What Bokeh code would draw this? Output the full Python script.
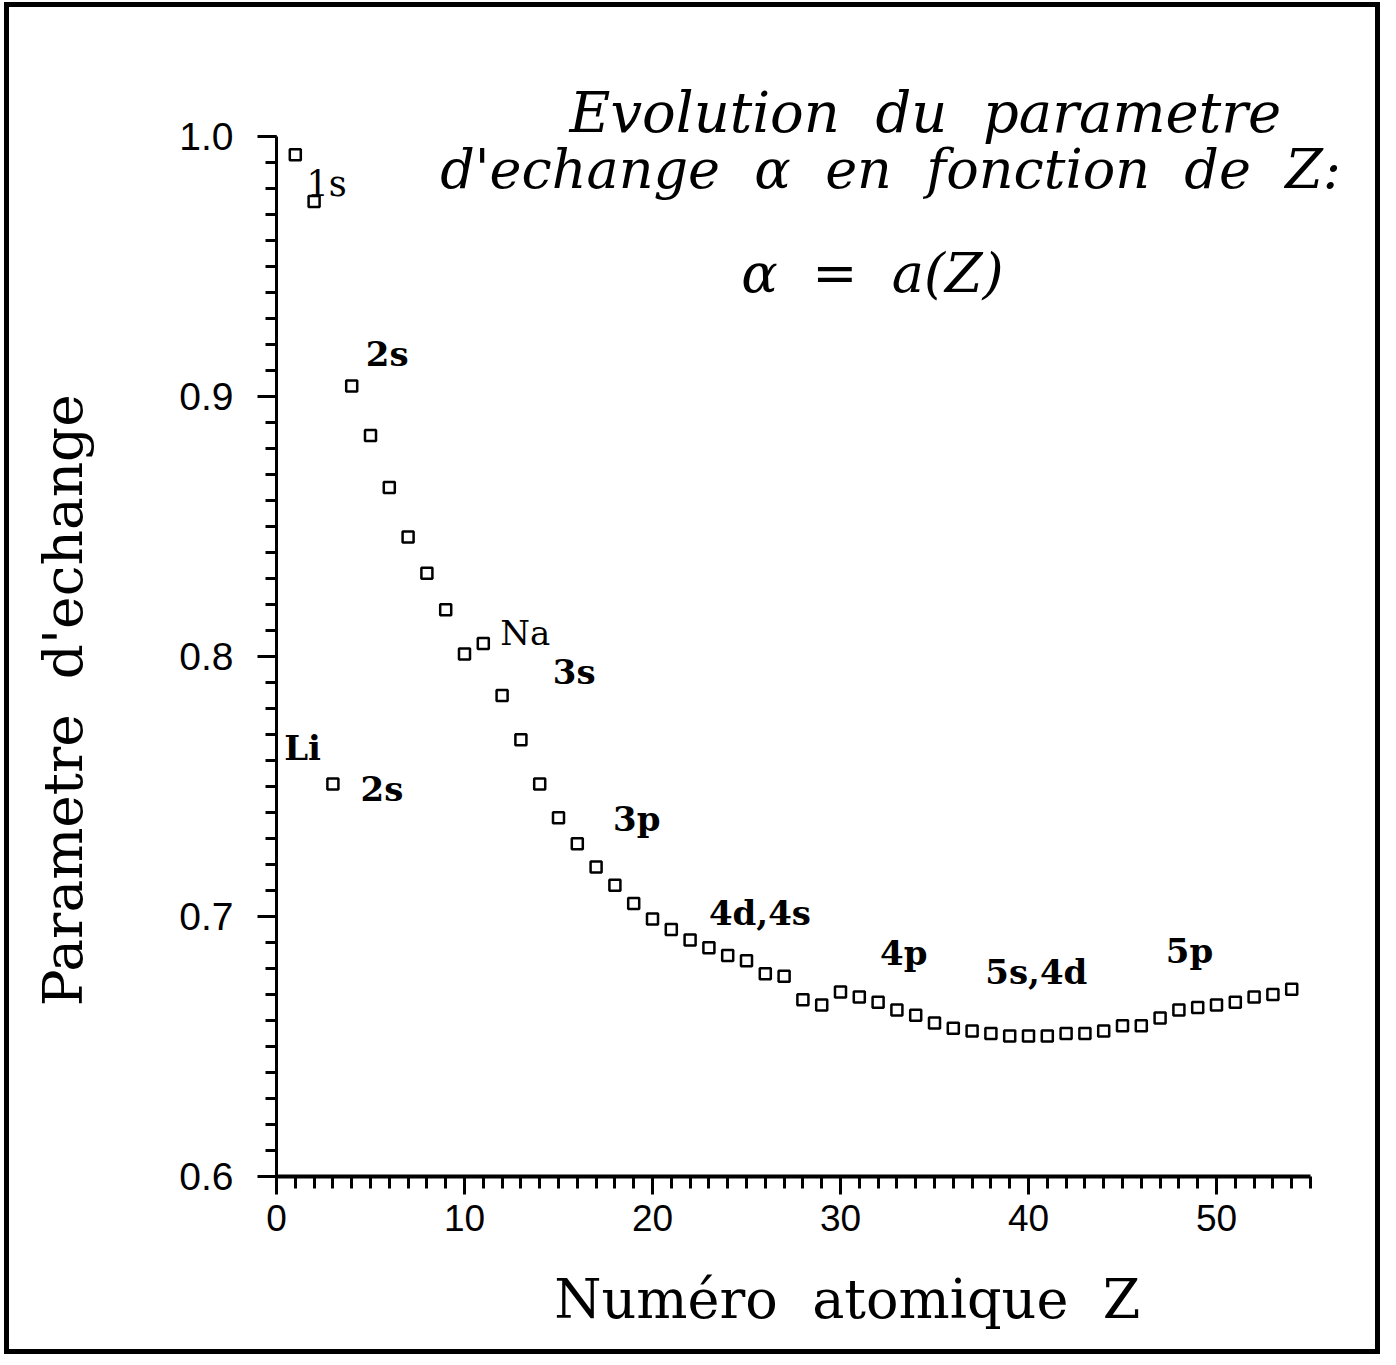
import math
from bokeh.plotting import figure
from bokeh.models import Range1d, SingleIntervalTicker, PrintfTickFormatter, Label
from bokeh.embed import file_html
from bokeh.resources import INLINE

# ---- data ----
Z = [1, 2, 3, 4, 5, 6, 7, 8, 9, 10,
     11, 12, 13, 14, 15, 16, 17, 18, 19, 20,
     21, 22, 23, 24, 25, 26, 27, 28, 29, 30,
     31, 32, 33, 34, 35, 36, 37, 38, 39, 40,
     41, 42, 43, 44, 45, 46, 47, 48, 49, 50,
     51, 52, 53, 54]
alpha = [0.993, 0.975, 0.751, 0.904, 0.885, 0.865, 0.846, 0.832, 0.818, 0.801,
         0.805, 0.785, 0.768, 0.751, 0.738, 0.728, 0.719, 0.712, 0.705, 0.699,
         0.695, 0.691, 0.688, 0.685, 0.683, 0.678, 0.677, 0.668, 0.666, 0.671,
         0.669, 0.667, 0.664, 0.662, 0.659, 0.657, 0.656, 0.655, 0.654, 0.654,
         0.654, 0.655, 0.655, 0.656, 0.658, 0.658, 0.661, 0.664, 0.665, 0.666,
         0.667, 0.669, 0.670, 0.672]

shell_labels = ["1s", "2s", "Na", "3s", "Li", "2s", "3p", "4d,4s", "4p", "5s,4d", "5p"]
shell_x = [1.6, 4.75, 11.9, 14.7, 0.41, 4.47, 17.9, 23.0, 32.1, 37.7, 47.3]
shell_y = [0.9818, 0.9163, 0.8090, 0.7942, 0.7650, 0.7491, 0.7375, 0.7015, 0.6858, 0.6785, 0.6869]
shell_bold = [False, True, False, True, True, True, True, True, True, True, True]

NB = "\u00a0"
title_lines = ["Evolution" + NB * 2 + "du" + NB * 2 + "parametre",
               "d'echange" + NB * 2 + "\u03b1" + NB * 2 + "en" + NB * 2 + "fonction" + NB * 2 + "de" + NB * 2 + "Z:",
               "\u03b1" + NB * 2 + "=" + NB * 2 + "a(Z)"]
xlabel = NB * 3 + "Num\u00e9ro" + NB * 2 + "atomique" + NB * 2 + "Z"
ylabel = "Parametre" + NB * 2 + "d'echange" + NB * 5

X_MAX_AXIS = 55
X_MAX_VIEW = 1090 / 18.8

# ---- figure ----
p = figure(width=1376, height=1352,
           x_range=Range1d(0, X_MAX_VIEW), y_range=Range1d(0.6, 1.0),
           output_backend="svg", toolbar_location=None,
           min_border_left=267, min_border_right=19,
           min_border_top=129, min_border_bottom=183)
p.styles = {"border": "5px solid black", "margin-left": "4px", "margin-top": "2px"}
p.xgrid.visible = False
p.ygrid.visible = False
p.outline_line_color = None
p.background_fill_color = "white"
p.border_fill_color = "white"

# first title line (above the frame)
p.title.text = title_lines[0]
p.title.align = "left"
p.title.offset = 293
p.title.standoff = -17
p.title.vertical_align = "bottom"
p.title.text_font = "DejaVu Serif"
p.title.text_font_style = "italic"
p.title.text_font_size = "56px"
p.title.text_color = "black"

xa = p.xaxis[0]
xa.bounds = (0, X_MAX_AXIS)
xa.ticker = SingleIntervalTicker(interval=10, num_minor_ticks=10)
xa.major_tick_in = 0
xa.major_tick_out = 18
xa.minor_tick_in = 0
xa.minor_tick_out = 12
xa.axis_line_width = 4
xa.major_tick_line_width = 3
xa.minor_tick_line_width = 3
xa.major_label_text_font = "Liberation Sans"
xa.major_label_text_font_size = "37px"
xa.major_label_text_color = "black"
xa.major_label_standoff = 10
xa.axis_label = xlabel
xa.axis_label_text_font = "DejaVu Serif"
xa.axis_label_text_font_size = "54px"
xa.axis_label_text_font_style = "normal"
xa.axis_label_text_color = "black"
xa.axis_label_standoff = 34

ya = p.yaxis[0]
ya.ticker = SingleIntervalTicker(interval=0.1, num_minor_ticks=10)
ya.formatter = PrintfTickFormatter(format="%.1f")
ya.major_tick_in = 0
ya.major_tick_out = 19
ya.minor_tick_in = 0
ya.minor_tick_out = 11
ya.axis_line_width = 3
ya.major_tick_line_width = 3
ya.minor_tick_line_width = 3
ya.major_label_text_font = "Liberation Sans"
ya.major_label_text_font_size = "39px"
ya.major_label_text_color = "black"
ya.major_label_standoff = 24
ya.axis_label = ylabel
ya.axis_label_text_font = "DejaVu Serif"
ya.axis_label_text_font_size = "55px"
ya.axis_label_text_font_style = "normal"
ya.axis_label_text_color = "black"
ya.axis_label_standoff = 81

p.scatter(Z, alpha, marker="square", size=11, fill_color="white",
          line_color="black", line_width=2.5)

for t, x, y, b in zip(shell_labels, shell_x, shell_y, shell_bold):
    p.add_layout(Label(x=x, y=y, text=t, text_font="DejaVu Serif",
                       text_font_size="35px" if t == "1s" else "34px",
                       text_font_style="bold" if b else "normal",
                       text_color="black", text_align="left",
                       text_baseline="middle"))

title_pos = [(32.66, 0.98715), (31.7, 0.94715)]
for t, (x, y) in zip(title_lines[1:], title_pos):
    p.add_layout(Label(x=x, y=y, text=t, text_font="DejaVu Serif",
                       text_font_size="54px", text_font_style="italic",
                       text_color="black", text_align="center",
                       text_baseline="middle"))

open("out.html", "w").write(file_html(p, INLINE))
